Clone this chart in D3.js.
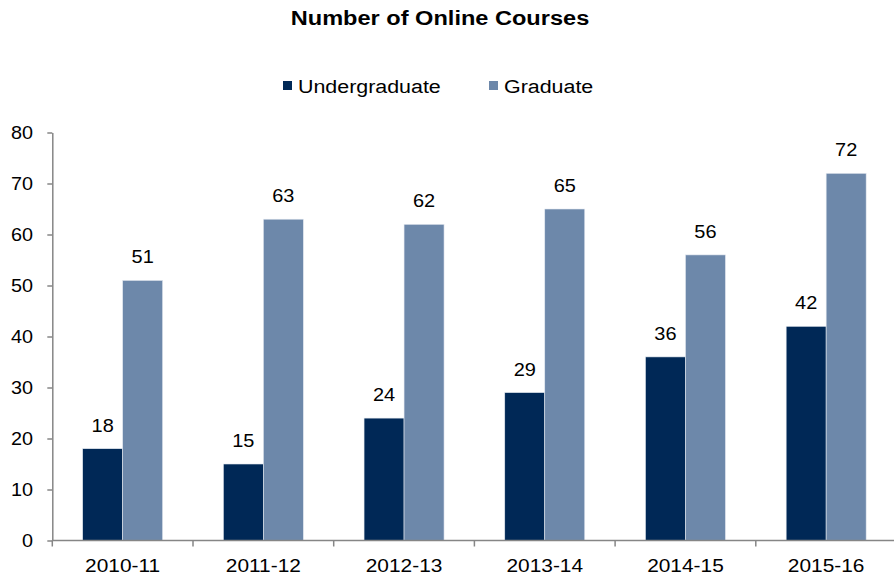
<!DOCTYPE html>
<html>
<head>
<meta charset="utf-8">
<script src="https://cdn.jsdelivr.net/npm/d3@7"></script>
<style>
  html, body { margin: 0; padding: 0; background: #fff; }
  svg { display: block; font-family: "Liberation Sans", Arial, sans-serif; }
</style>
</head>
<body>
<svg id="chart" width="894" height="580"></svg>
<script>
// Academic years and course counts per level
const years = ["2010-11", "2011-12", "2012-13", "2013-14", "2014-15", "2015-16"];
const undergraduate = [18, 15, 24, 29, 36, 42];
const graduate = [51, 63, 62, 65, 56, 72];
const seriesNames = ["Undergraduate", "Graduate"];
const seriesColors = ["#002856", "#6d88aa"];
const yTicks = [0, 10, 20, 30, 40, 50, 60, 70, 80];

const svg = d3.select("#chart");
const left = 52.3, bandW = 140.7;
const x = d3.scaleBand().domain(years).range([left, left + bandW * years.length]).paddingInner(0).paddingOuter(0);
const y = d3.scaleLinear().domain([0, 80]).range([540.5, 132.5]);
const inner = d3.scaleBand().domain(seriesNames).range([x.bandwidth() / 2 - 40, x.bandwidth() / 2 + 40]);

// Text drawn with a slight horizontal stretch, matching the wide typeface of the chart
function label(parent, px, py, str, opts) {
  const o = Object.assign({ size: 18, sx: 1.15, anchor: "start", weight: "normal" }, opts || {});
  return parent.append("text")
    .attr("transform", `translate(${px},${py}) scale(${o.sx},1)`)
    .attr("text-anchor", o.anchor)
    .attr("font-size", o.size)
    .attr("font-weight", o.weight)
    .attr("fill", "#000")
    .text(str);
}

// Title
label(svg, 440, 25, "Number of Online Courses", { size: 20.5, sx: 1.15, anchor: "middle", weight: "bold" });

// Legend
const legendItems = [{ name: "Undergraduate", x: 283 }, { name: "Graduate", x: 489 }];
legendItems.forEach((d, i) => {
  const g = svg.append("g").attr("transform", `translate(${d.x},0)`);
  g.append("rect").attr("x", 0).attr("y", 81).attr("width", 9).attr("height", 9).attr("fill", seriesColors[i]);
  label(g, 15, 93, d.name, { size: 18, sx: 1.19 });
});

// Bars
const rows = years.map((yr, i) => ({ year: yr, values: [undergraduate[i], graduate[i]] }));
const groups = svg.selectAll("g.year").data(rows).enter().append("g")
  .attr("class", "year")
  .attr("transform", d => `translate(${x(d.year)},0)`);

groups.selectAll("rect").data(d => d.values.map((v, k) => ({ v, k }))).enter().append("rect")
  .attr("x", d => inner(seriesNames[d.k]))
  .attr("y", d => y(d.v))
  .attr("width", inner.bandwidth())
  .attr("height", d => y(0) - y(d.v))
  .attr("fill", d => seriesColors[d.k])
  .attr("stroke", "#e4e9f0").attr("stroke-width", 0.6);

groups.each(function (d) {
  const g = d3.select(this);
  d.values.forEach((v, k) => {
    label(g, inner(seriesNames[k]) + inner.bandwidth() / 2, y(v) - 17, v, { size: 19, sx: 1.05, anchor: "middle" });
  });
});

// Y axis
const yAxis = svg.append("g").attr("transform", `translate(${left},0)`)
  .call(d3.axisLeft(y).tickValues(yTicks).tickSize(5).tickSizeOuter(0).tickFormat(""));
yAxis.select(".domain").attr("stroke", "#868686").attr("stroke-width", 1.5);
yAxis.selectAll(".tick line").attr("stroke", "#868686").attr("stroke-width", 1.5);
yTicks.forEach(t => label(svg, 33, y(t) + 6.5, t, { size: 18, sx: 1.1, anchor: "end" }));

// X axis with ticks at band boundaries
const xAxisG = svg.append("g").attr("transform", `translate(0,${y(0)})`);
xAxisG.append("line").attr("x1", left).attr("x2", left + bandW * years.length)
  .attr("stroke", "#868686").attr("stroke-width", 1.5);
const bounds = d3.range(years.length + 1).map(i => left + i * bandW);
xAxisG.selectAll("line.tk").data(bounds).enter().append("line")
  .attr("class", "tk")
  .attr("x1", d => d).attr("x2", d => d).attr("y1", 0).attr("y2", 6)
  .attr("stroke", "#868686").attr("stroke-width", 1.5);
years.forEach(yr => label(xAxisG, x(yr) + x.bandwidth() / 2, 31, yr, { size: 18.5, sx: 1.13, anchor: "middle" }));
</script>
</body>
</html>
